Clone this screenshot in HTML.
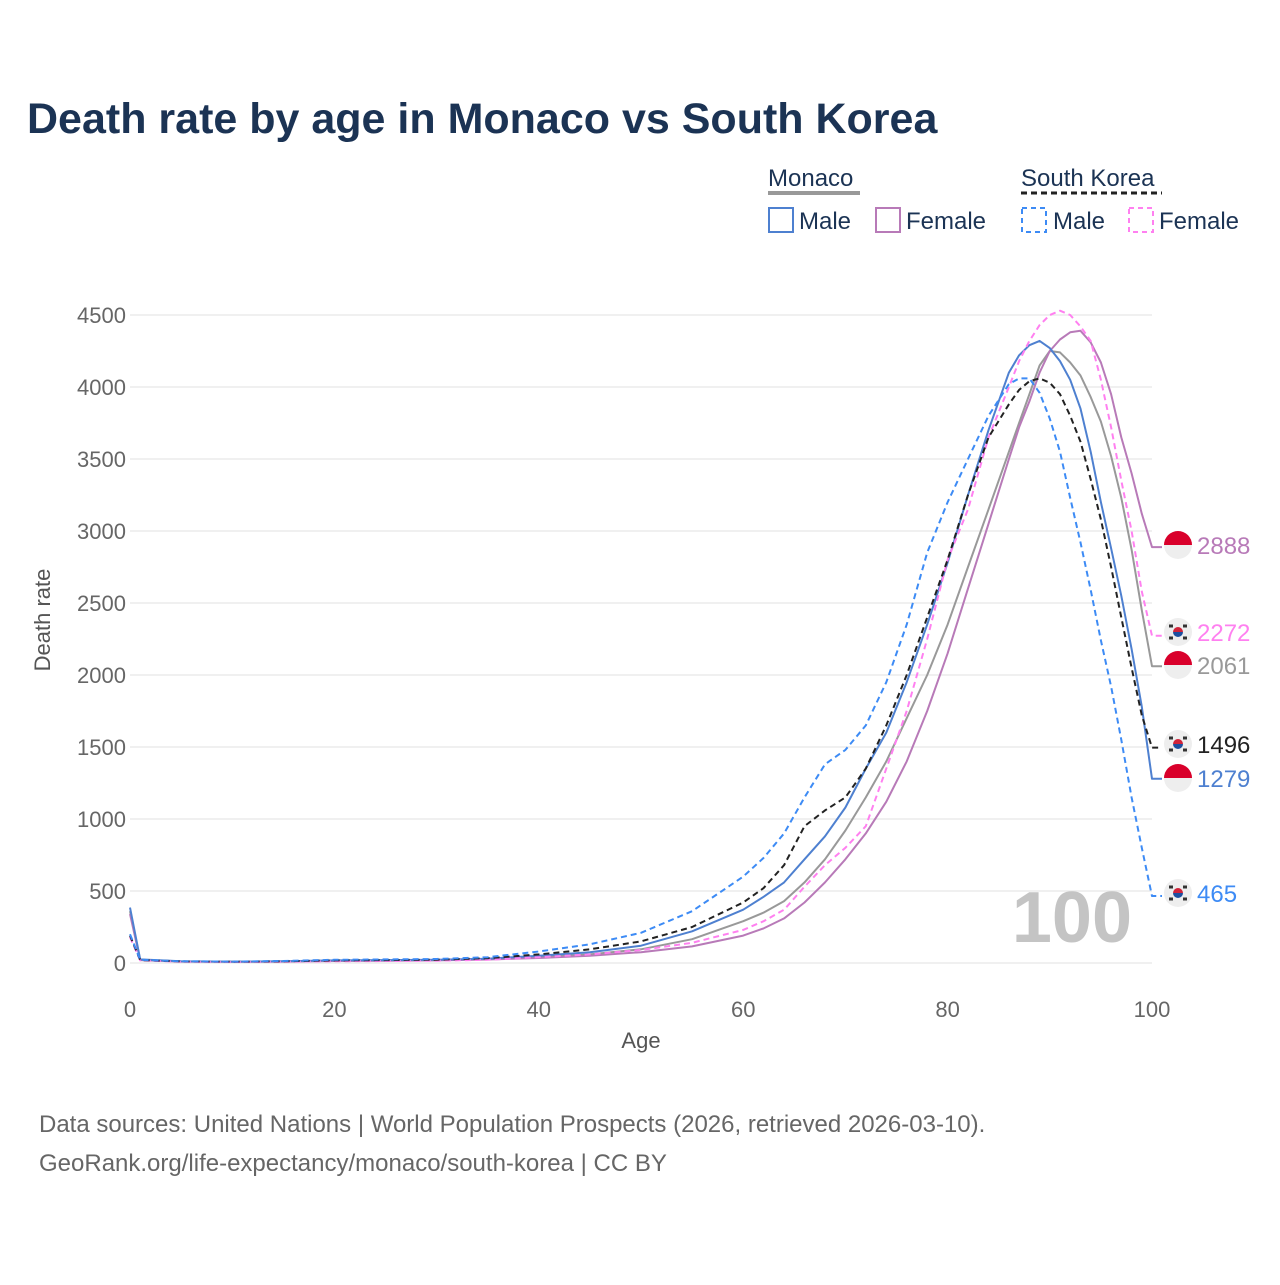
<!DOCTYPE html>
<html><head><meta charset="utf-8"><style>
body{margin:0;background:#fff;}
svg text{font-family:"Liberation Sans",sans-serif;}
</style></head><body>
<svg id="chart" width="1280" height="1280" xmlns="http://www.w3.org/2000/svg">
<text x="27" y="133" font-size="43" font-weight="bold" fill="#1b3354">Death rate by age in Monaco vs South Korea</text>
<g>
<text x="768" y="186" font-size="24" fill="#1b3354">Monaco</text>
<line x1="768" y1="193" x2="860" y2="193" stroke="#999" stroke-width="4"/>
<text x="1021" y="186" font-size="24" fill="#1b3354">South Korea</text>
<line x1="1021" y1="193" x2="1162" y2="193" stroke="#222" stroke-width="3" stroke-dasharray="6,4"/>
<rect x="769" y="208" width="24" height="24" fill="none" stroke="#4e80d0" stroke-width="2"/>
<text x="799" y="229" font-size="24" fill="#1b3354">Male</text>
<rect x="876" y="208" width="24" height="24" fill="none" stroke="#b87ab8" stroke-width="2"/>
<text x="906" y="229" font-size="24" fill="#1b3354">Female</text>
<rect x="1022" y="208" width="24" height="24" fill="none" stroke="#3d8bf5" stroke-width="2" stroke-dasharray="5,4"/>
<text x="1053" y="229" font-size="24" fill="#1b3354">Male</text>
<rect x="1129" y="208" width="24" height="24" fill="none" stroke="#ff80f0" stroke-width="2" stroke-dasharray="5,4"/>
<text x="1159" y="229" font-size="24" fill="#1b3354">Female</text>
</g>
<g id="grid"></g>
<text x="1132" y="942" font-size="72" font-weight="bold" fill="#c4c4c4" text-anchor="end">100</text>
<g id="lines"></g>
<g id="labels"></g>
<text transform="translate(50,620) rotate(-90)" font-size="22" fill="#555" text-anchor="middle">Death rate</text>
<text x="641" y="1048" font-size="22" fill="#555" text-anchor="middle">Age</text>
<text x="39" y="1132" font-size="24" fill="#666">Data sources: United Nations | World Population Prospects (2026, retrieved 2026-03-10).</text>
<text x="39" y="1171" font-size="24" fill="#666">GeoRank.org/life-expectancy/monaco/south-korea | CC BY</text>
</svg>
<script>
const ages=[0,1,5,10,15,20,25,30,35,40,45,50,55,60,62,64,66,68,70,72,74,76,78,80,82,84,86,87,88,89,90,91,92,93,94,95,96,97,98,99,100];
const monacoMale=[385,25,12,10,12,18,20,22,30,50,75,120,220,370,460,560,720,880,1080,1350,1600,1950,2350,2780,3250,3700,4100,4220,4290,4320,4270,4180,4050,3850,3550,3200,2880,2550,2180,1780,1279];
const monacoFemale=[340,20,10,8,10,14,16,18,24,35,50,75,115,190,240,310,420,560,720,900,1120,1400,1750,2150,2600,3050,3500,3720,3900,4100,4250,4330,4380,4390,4310,4170,3950,3650,3400,3120,2888];
const monacoTotal=[360,22,11,9,11,16,18,20,27,42,60,95,165,290,350,430,560,720,920,1150,1400,1700,2000,2350,2750,3150,3550,3750,3950,4150,4250,4240,4170,4080,3930,3760,3520,3230,2870,2450,2061];
const koreaMale=[200,22,12,10,14,22,25,28,40,80,130,210,360,600,730,900,1150,1380,1480,1650,1950,2350,2850,3200,3500,3800,4020,4060,4060,3960,3780,3550,3230,2920,2590,2240,1920,1550,1150,800,465];
const koreaFemale=[180,18,9,7,9,12,14,16,22,40,60,90,140,230,290,370,530,680,800,950,1350,1750,2250,2800,3150,3650,4000,4180,4320,4430,4500,4530,4500,4420,4320,4050,3720,3350,3000,2580,2272];
const koreaTotal=[190,20,11,9,12,18,20,23,33,60,95,150,250,420,520,680,950,1060,1150,1350,1650,2000,2400,2800,3250,3650,3880,3980,4040,4060,4030,3950,3800,3620,3360,3080,2750,2400,2050,1720,1496];
const yTicks=[0,500,1000,1500,2000,2500,3000,3500,4000,4500];
const xTicks=[0,20,40,60,80,100];
const NS="http://www.w3.org/2000/svg";
const X=a=>130+a*10.22;
const Y=v=>963-v*0.144;
function mk(t,at,p){const e=document.createElementNS(NS,t);for(const k in at)e.setAttribute(k,at[k]);p.appendChild(e);return e;}
const grid=document.getElementById('grid');
yTicks.forEach(v=>{
  const l=mk('line',{x1:130,x2:1152,y1:Y(v),y2:Y(v),stroke:'#ebebeb','stroke-width':1.5},grid);
  
  
  const t=mk('text',{x:126,y:Y(v)+8,'font-size':22,fill:'#666','text-anchor':'end'},grid);
  t.textContent=v;
  
  
});
xTicks.forEach(a=>{
  const t=mk('text',{x:X(a),y:1017,'font-size':22,fill:'#666','text-anchor':'middle'},grid);
  t.textContent=a;
  
  
});
const series=[
 {d:monacoTotal,c:'#999999',dash:null,name:'monaco-total',flag:'mc',ly:665},
 {d:monacoFemale,c:'#b87ab8',dash:null,name:'monaco-female',flag:'mc',ly:545},
 {d:monacoMale,c:'#4e80d0',dash:null,name:'monaco-male',flag:'mc',ly:778},
 {d:koreaFemale,c:'#ff80f0',dash:'6,4',name:'south-korea-female',flag:'kr',ly:632},
 {d:koreaTotal,c:'#222222',dash:'6,4',name:'south-korea-total',flag:'kr',ly:744},
 {d:koreaMale,c:'#3d8bf5',dash:'6,4',name:'south-korea-male',flag:'kr',ly:893},
];
const lines=document.getElementById('lines'),labels=document.getElementById('labels');
series.forEach(s=>{
  let pts=ages.map((a,i)=>X(a).toFixed(1)+','+Y(s.d[i]).toFixed(1));
  const last=s.d[s.d.length-1];
  pts.push('1162,'+Y(last).toFixed(1));
  const at={points:pts.join(' '),fill:'none',stroke:s.c,'stroke-width':2,'stroke-linejoin':'round'};
  if(s.dash)at['stroke-dasharray']=s.dash;
  const p=mk('polyline',at,lines);
  
  
  const g=mk('g',{},labels);
  
  
  const cx=1178,cy=s.ly;
  mk('circle',{cx:cx,cy:cy,r:14,fill:'#eeeeee'},g);
  if(s.flag==='mc'){
    mk('path',{d:`M${cx-14},${cy} A14,14 0 0 1 ${cx+14},${cy} Z`,fill:'#d9002b'},g);
  } else {
    mk('path',{d:`M${cx-5},${cy} A5,5 0 0 1 ${cx+5},${cy} Z`,fill:'#d0233a'},g);
    mk('path',{d:`M${cx-5},${cy} A5,5 0 0 0 ${cx+5},${cy} Z`,fill:'#1c4fa0'},g);
    [[-7,-6],[7,-6],[-7,6],[7,6]].forEach(o=>mk('rect',{x:cx+o[0]-2,y:cy+o[1]-1.5,width:4,height:3,fill:'#333'},g));
  }
  const t=mk('text',{x:1197,y:cy+9,'font-size':24,fill:s.c},g);
  t.textContent=last;
});
</script>
</body></html>
